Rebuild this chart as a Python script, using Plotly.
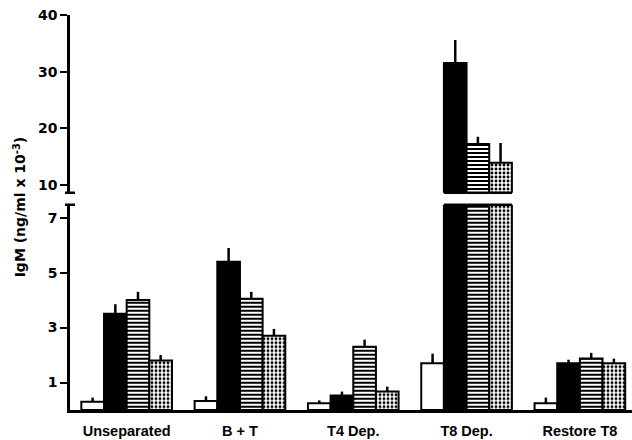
import plotly.graph_objects as go

# IgM production by cell fraction, four culture conditions per fraction
groups = ["Unseparated", "B + T", "T4 Dep.", "T8 Dep.", "Restore T8"]
cond_open = [0.30, 0.33, 0.25, 1.70, 0.25]
cond_solid = [3.50, 5.40, 0.53, 31.5, 1.70]
cond_striped = [4.00, 4.05, 2.30, 17.2, 1.87]
cond_dotted = [1.80, 2.70, 0.67, 13.9, 1.70]
err_open = [0.15, 0.17, 0.10, 0.35, 0.20]
err_solid = [0.35, 0.50, 0.14, 4.1, 0.13]
err_striped = [0.30, 0.25, 0.26, 1.3, 0.21]
err_dotted = [0.20, 0.25, 0.18, 3.5, 0.17]

lower_ticks = [1, 3, 5, 7]
upper_ticks = [10, 20, 30, 40]
lower_range = [0, 7.47]
upper_range = [8.6, 40]

series = [
    (cond_open, err_open, dict(color="white")),
    (cond_solid, err_solid, dict(color="black")),
    (cond_striped, err_striped, dict(color="white", pattern=dict(
        shape="-", fgcolor="black", bgcolor="white", size=4, solidity=0.5, fillmode="replace"))),
    (cond_dotted, err_dotted, dict(color="white", pattern=dict(
        shape=".", fgcolor="black", bgcolor="white", size=4, solidity=0.4, fillmode="replace"))),
]

fig = go.Figure()
for xa, ya in (("x", "y"), ("x2", "y2")):
    for vals, errs, mk in series:
        fig.add_trace(go.Bar(
            x=groups, y=vals, xaxis=xa, yaxis=ya,
            marker=dict(line=dict(color="black", width=2), **mk),
            error_y=dict(type="data", symmetric=False, array=errs,
                         arrayminus=[0] * len(errs), color="black",
                         thickness=2.5, width=0),
            showlegend=False,
        ))

xfont = dict(family="Liberation Sans", size=14.5, color="black", weight="bold")
yfont = dict(family="DejaVu Sans", size=14, color="black", weight="bold")
bargap = 0.2
n_series = len(series)
slot = (1 - bargap) / n_series

# Outline the cut ends of bars that cross the axis break
shapes = []
for j, (vals, _, _) in enumerate(series):
    for i, v in enumerate(vals):
        if v > lower_range[1]:
            x0 = i - (1 - bargap) / 2 + j * slot
            shapes.append(dict(type="line", xref="x", yref="y domain", x0=x0, x1=x0 + slot,
                               y0=1, y1=1, line=dict(color="black", width=2.5)))
            shapes.append(dict(type="line", xref="x", yref="y2 domain", x0=x0, x1=x0 + slot,
                               y0=0, y1=0, line=dict(color="black", width=2.5)))

# Caps at each end of the broken y axis
for ref, yv in (("y domain", 1), ("y2 domain", 0)):
    shapes.append(dict(type="line", xref="paper", yref=ref, xsizemode="pixel", xanchor=0,
                       x0=-5, x1=5, y0=yv, y1=yv, line=dict(color="black", width=2.5)))

fig.update_layout(
    width=632, height=440,
    margin=dict(l=70, r=0, t=15, b=29.5),
    paper_bgcolor="white", plot_bgcolor="white",
    barmode="group", bargap=bargap, bargroupgap=0,
    xaxis=dict(domain=[0, 1], anchor="y", range=[-0.5, 4.46], showline=True,
               linecolor="black", linewidth=2.5, ticks="", showgrid=False,
               tickfont=xfont, ticklabelstandoff=6),
    xaxis2=dict(domain=[0, 1], anchor="y2", matches="x", visible=False),
    yaxis=dict(domain=[0, 0.5196], range=lower_range, tickvals=lower_ticks,
               showline=True, linecolor="black", linewidth=2.5, ticks="outside",
               ticklen=7, tickwidth=2, tickcolor="black", showgrid=False,
               zeroline=False, tickfont=yfont),
    yaxis2=dict(domain=[0.55, 1], range=upper_range, tickvals=upper_ticks,
                showline=True, linecolor="black", linewidth=2.5, ticks="outside",
                ticklen=7, tickwidth=2, tickcolor="black", showgrid=False,
                zeroline=False, tickfont=yfont),
    shapes=shapes,
    annotations=[dict(text="IgM (ng/ml x 10<sup>-3</sup>)", xref="paper", yref="paper",
                      x=-0.0890, y=0.513, xanchor="center", yanchor="middle",
                      textangle=-90, showarrow=False,
                      font=dict(family="DejaVu Sans", size=14, color="black", weight="bold"))],
)

fig.write_html("out.html")
